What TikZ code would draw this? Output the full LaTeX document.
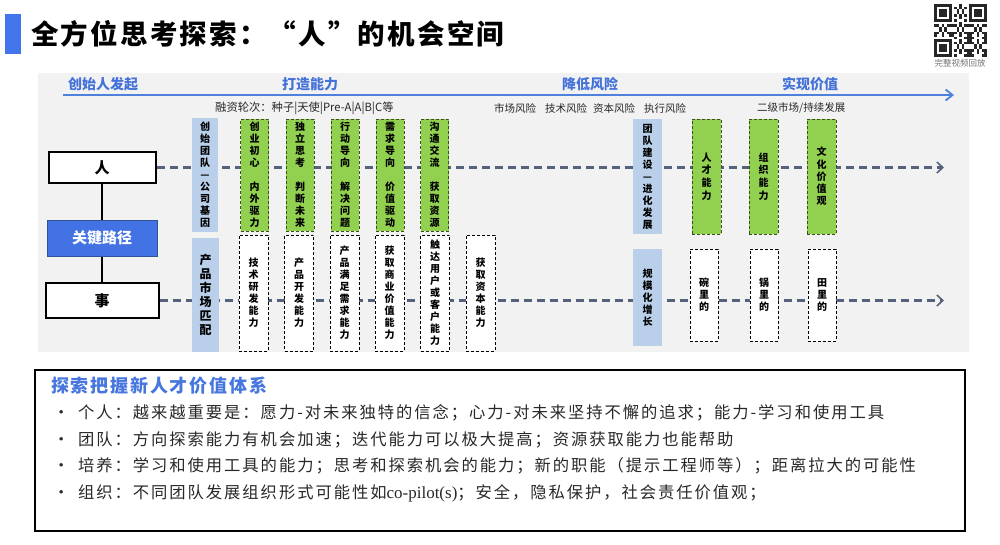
\documentclass[tikz,border=0pt]{standalone}
\usepackage{fontspec}
\newfontfamily\cjk{Noto Sans CJK SC}
\newfontfamily\cjktl[LetterSpace=8]{Noto Sans CJK SC}
\newfontfamily\cjkls[LetterSpace=10]{Noto Sans CJK SC}
\newfontfamily\cjkbody[LetterSpace=12]{Noto Sans CJK SC}
\newfontfamily\lserif{Liberation Serif}
\usetikzlibrary{arrows.meta}
\definecolor{titleblue}{RGB}{66,117,234}
\definecolor{lineblue}{RGB}{79,129,220}
\definecolor{labelblue}{RGB}{68,114,216}
\definecolor{keyfill}{RGB}{66,114,228}
\definecolor{keydraw}{RGB}{47,85,151}
\definecolor{lgreen}{RGB}{146,208,80}
\definecolor{grbord}{RGB}{60,80,30}
\definecolor{lblue}{RGB}{186,208,234}
\definecolor{panel}{RGB}{242,242,242}
\definecolor{dashgray}{RGB}{84,98,125}
\definecolor{headblue}{RGB}{70,118,222}
\definecolor{txtgray}{RGB}{40,40,40}
\begin{document}
\begin{tikzpicture}[x=1pt,y=-1pt,
  vbase/.style={inner sep=0pt, align=center, font=\cjk\bfseries\fontsize{10}{12}\selectfont},
  lbbox/.style={vbase, fill=lblue},
  grbox/.style={vbase, fill=lgreen, draw=grbord, densely dashed, line width=0.8pt},
  whbox/.style={vbase, fill=white, draw=black, densely dashed, line width=0.7pt},
  mainbox/.style={draw=black, fill=white, line width=2pt, inner sep=0pt, font=\cjk\bfseries\fontsize{15}{17}\selectfont},
  keybox/.style={draw=keydraw, fill=keyfill, line width=1pt, inner sep=0pt, text=white, font=\cjk\bfseries\fontsize{15}{17}\selectfont},
  phase/.style={text=labelblue, inner sep=0pt, font=\cjk\bfseries\fontsize{14}{16}\selectfont},
  smalltext/.style={text=txtgray, inner sep=0pt, font=\cjk\fontsize{10.5}{12}\selectfont},
  dashline/.style={draw=dashgray, line width=2.6pt, dash pattern=on 8pt off 5pt, -{Straight Barb[length=6pt,width=11pt,line width=1.6pt]}},
  bodyline/.style={anchor=west, inner sep=0pt, text=txtgray, font=\cjkbody\fontsize{16.3}{18}\selectfont}
]
\useasboundingbox (0,0) rectangle (1000,544);
\fill[white] (0,0) rectangle (1000,544);

% title
\fill[titleblue] (5,14) rectangle (21,54);
\node[anchor=west, inner sep=0pt, font=\cjktl\bfseries\fontsize{27.5}{30}\selectfont] (title) at (31,34) {全方位思考探索：“人”的机会空间};

% QR code
\begin{scope}[shift={(934,4)}]
  \foreach \i in {0,...,20}{
    \foreach \j in {0,...,20}{
      \pgfmathtruncatemacro\v{mod(\i*17+\j*31+\i*\j*7+\i*\i*3+\j*\j*5,7)}
      \pgfmathtruncatemacro\skip{((\i<8)&&(\j<8)) || ((\i>12)&&(\j<8)) || ((\i<8)&&(\j>12))}
      \ifnum\skip=0 \ifnum\v<3
        \fill[black!85] (\i*2.5,\j*2.5) rectangle ++(2.5,2.5);
      \fi\fi
    }
  }
  \foreach \ox/\oy in {0/0, 35/0, 0/35}{
    \fill[black!85] (\ox,\oy) rectangle ++(17.5,17.5);
    \fill[white] (\ox+2.5,\oy+2.5) rectangle ++(12.5,12.5);
    \fill[black!85] (\ox+5,\oy+5) rectangle ++(7.5,7.5);
  }
\end{scope}
\node[inner sep=0pt, text=black!55, font=\cjk\fontsize{8.5}{10}\selectfont] (qrlabel) at (960,63) {完整视频回放};

% panel
\fill[panel] (38,73) rectangle (969,352);

% timeline
\coordinate (tl0) at (63,95);
\coordinate (tl1) at (954,95);
\draw[lineblue, line width=2pt, -{Straight Barb[length=7pt,width=11pt,line width=1.8pt]}] (tl0) -- (tl1);
\node[phase, anchor=west] (p1) at (68,84) {创始人发起};
\node[phase] (p2) at (310,84) {打造能力};
\node[phase] (p3) at (590,84) {降低风险};
\node[phase] (p4) at (810,84) {实现价值};

\node[smalltext, anchor=west, font=\cjk\fontsize{11.3}{12}\selectfont] (fund) at (215,108) {融资轮次：种子|天使|Pre-A|A|B|C等};
\node[smalltext, anchor=west] (risk) at (494,108) {市场风险\hspace{9pt}技术风险\hspace{6pt}资本风险\hspace{9pt}执行风险};
\node[smalltext, anchor=west] (sec) at (757,108) {二级市场/持续发展};

% left nodes
\node[mainbox, minimum width=107pt, minimum height=31pt] (ren) at (102,167.5) {人};
\node[keybox, minimum width=110pt, minimum height=36pt] (key) at (102,238) {关键路径};
\node[mainbox, minimum width=113pt, minimum height=35pt] (shi) at (102,300.5) {事};
\draw[line width=2pt] (ren) -- (key);
\draw[line width=2pt] (key) -- (shi);

% dashed arrows
\coordinate (e1) at (944,167.5);
\coordinate (e2) at (944,300.5);
\draw[dashline] (ren.east) -- (e1);
\draw[dashline] (shi.east) -- (e2);

% top row
\node[lbbox, minimum width=26pt, minimum height=114pt] (t0) at (205,175) {创\\始\\团\\队\\—\\公\\司\\基\\因};
\node[grbox, minimum width=28pt, minimum height=112pt] (g1) at (254.5,175) {创\\业\\初\\心\\[12pt]内\\外\\驱\\力};
\node[grbox, minimum width=28pt, minimum height=112pt] (g2) at (300,175) {独\\立\\思\\考\\[12pt]判\\断\\未\\来};
\node[grbox, minimum width=28pt, minimum height=112pt] (g3) at (345,175) {行\\动\\导\\向\\[12pt]解\\决\\问\\题};
\node[grbox, minimum width=28pt, minimum height=112pt] (g4) at (390,175) {需\\求\\导\\向\\[12pt]价\\值\\驱\\动};
\node[grbox, minimum width=28pt, minimum height=112pt] (g5) at (434.5,175) {沟\\通\\交\\流\\[12pt]获\\取\\资\\源};

% bottom row
\node[lbbox, minimum width=27pt, minimum height=114pt, font=\cjk\bfseries\fontsize{12}{14}\selectfont] (b0) at (205.5,295) {产\\品\\市\\场\\匹\\配};
\node[whbox, minimum width=29pt, minimum height=116pt] (w1) at (253.5,293) {技\\术\\研\\发\\能\\力};
\node[whbox, minimum width=29pt, minimum height=116pt] (w2) at (299,293) {产\\品\\开\\发\\能\\力};
\node[whbox, minimum width=29pt, minimum height=116pt] (w3) at (344.5,293) {产\\品\\满\\足\\需\\求\\能\\力};
\node[whbox, minimum width=29pt, minimum height=116pt] (w4) at (389.5,293) {获\\取\\商\\业\\价\\值\\能\\力};
\node[whbox, minimum width=29pt, minimum height=116pt] (w5) at (435,293) {触\\达\\用\\户\\或\\客\\户\\能\\力};
\node[whbox, minimum width=29pt, minimum height=116pt] (w6) at (480.5,293) {获\\取\\资\\本\\能\\力};

% right part
\node[lbbox, minimum width=29pt, minimum height=115pt] (r0) at (647.5,176.5) {团\\队\\建\\设\\—\\进\\化\\发\\展};
\node[grbox, minimum width=29pt, minimum height=115pt, font=\cjk\bfseries\fontsize{10}{12.7}\selectfont] (g6) at (706.5,176.5) {人\\才\\能\\力};
\node[grbox, minimum width=29pt, minimum height=115pt, font=\cjk\bfseries\fontsize{10}{12.7}\selectfont] (g7) at (763.5,176.5) {组\\织\\能\\力};
\node[grbox, minimum width=29pt, minimum height=115pt, font=\cjk\bfseries\fontsize{10}{12.3}\selectfont] (g8) at (821.5,176.5) {文\\化\\价\\值\\观};
\node[lbbox, minimum width=29pt, minimum height=97pt] (rb0) at (647.5,297.5) {规\\模\\化\\增\\长};
\node[whbox, minimum width=28pt, minimum height=92pt] (w7) at (704,295) {碗\\里\\的};
\node[whbox, minimum width=28pt, minimum height=92pt] (w8) at (764,295) {锅\\里\\的};
\node[whbox, minimum width=28pt, minimum height=92pt] (w9) at (822,295) {田\\里\\的};

% bottom text box
\node[draw=black, line width=1.5pt, fill=white, minimum width=930pt, minimum height=161pt, inner sep=0pt] (tb) at (500,450.5) {};
\node[anchor=west, inner sep=0pt, text=headblue, font=\cjkls\bfseries\fontsize{18}{20}\selectfont] (hd) at (51,386) {探索把握新人才价值体系};
\node[bodyline] (l1) at (53,413) {\makebox[25pt][l]{•}个人：越来越重要是：愿力-对未来独特的信念；心力-对未来坚持不懈的追求；能力-学习和使用工具};
\node[bodyline] (l2) at (53,439.5) {\makebox[25pt][l]{•}团队：方向探索能力有机会加速；迭代能力可以极大提高；资源获取能力也能帮助};
\node[bodyline] (l3) at (53,466) {\makebox[25pt][l]{•}培养：学习和使用工具的能力；思考和探索机会的能力；新的职能（提示工程师等）；距离拉大的可能性};
\node[bodyline] (l4) at (53,493) {\makebox[25pt][l]{•}组织：不同团队发展组织形式可能性如{\lserif\fontsize{17}{18}\selectfont co-pilot(s)}；安全，隐私保护，社会责任价值观；};
\end{tikzpicture}
\end{document}
